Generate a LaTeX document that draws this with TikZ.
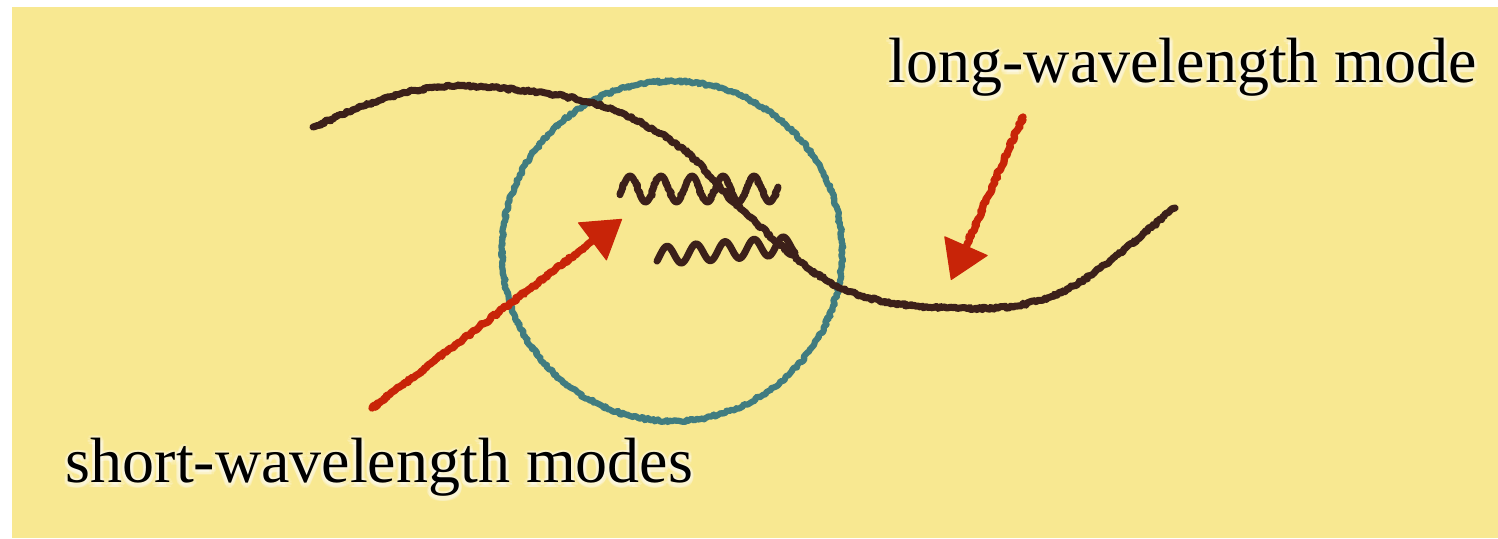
\documentclass[tikz,border=0pt]{standalone}
\usepackage{fontspec}
\setmainfont{Liberation Serif}
\usetikzlibrary{arrows.meta,calc,decorations.pathmorphing}
\definecolor{bg}{HTML}{F8E891}
\definecolor{chalkbrown}{HTML}{3C201A}
\definecolor{chalkteal}{HTML}{407C80}
\definecolor{chalkred}{HTML}{C82408}
\begin{document}
\begin{tikzpicture}[x=0.25pt,y=-0.25pt,
  chalk/.style={line width=1.75pt, line cap=round, line join=round, decorate,
    decoration={random steps, segment length=0.5pt, amplitude=0.33pt}},
  lbl/.style={inner sep=0pt, anchor=base west, font=\fontsize{16}{18}\selectfont},
  glow/.style={lbl, text=white, opacity=0.2},
  arrowhead/.style={chalkred, line width=0.25pt, -{Triangle[length=9.5pt,width=12pt,round]}},
]
\pgfmathsetseed{7}
\fill[white] (0,0) rectangle (1498,538);
\useasboundingbox (0,0) rectangle (1498,538);
\fill[bg] (12,7) rectangle (1498,538);

% circle (region)
\coordinate (cc) at (672,251);
\draw[chalk, chalkteal, line width=1.55pt] (cc) circle[radius=170];

% long-wavelength mode
\coordinate (L0) at (313,127);
\coordinate (L9) at (1175,208);
\draw[chalk, chalkbrown] (L0)
  .. controls (325.8,122) and (364.3,103.8) .. (390,97)
  .. controls (415.7,90.2) and (433.2,85) .. (467,86)
  .. controls (500.8,87) and (557.5,92.8) .. (593,103)
  .. controls (628.5,113.2) and (655.5,129.5) .. (680,147)
  .. controls (704.5,164.5) and (713.8,184.8) .. (740,208)
  .. controls (766.2,231.2) and (802.5,269.3) .. (837,286)
  .. controls (871.5,302.7) and (909.8,306.8) .. (947,308)
  .. controls (984.2,309.2) and (1022,309.7) .. (1060,293)
  .. controls (1098,276.3) and (1155.8,222.2) .. (L9);

% short-wavelength modes
\draw[chalk, chalkbrown] plot[domain=620:778, samples=120] (\x, {189 - 13*cos(11.6129*(\x-630))});
\draw[chalk, chalkbrown] plot[domain=657:795, samples=110] (\x, {256 - 0.08*(\x-657) - 9*cos(12.4138*(\x-667))});

% arrows
\coordinate (s1) at (372,408);
\coordinate (t1) at (622,219);
\coordinate (s2) at (1023,117);
\coordinate (t2) at (951,280);
\draw[chalk, chalkred, line width=1.85pt] (s1) -- ($(t1)!7.5pt!(s1)$);
\draw[arrowhead] ($(t1)!9.75pt!(s1)$) -- (t1);
\draw[chalk, chalkred, line width=1.85pt] (s2) -- ($(t2)!7.5pt!(s2)$);
\draw[arrowhead] ($(t2)!9.75pt!(s2)$) -- (t2);

% labels with glow
\foreach \a in {0,30,...,330} {
  \node[glow] at ($(888,84)+(\a:3.5)$) {long-wavelength mode};
  \node[glow] at ($(65,484)+(\a:3.5)$) {short-wavelength modes};
}
\node[lbl] (longlbl) at (888,82) {long-wavelength mode};
\node[lbl] (shortlbl) at (65,482) {short-wavelength modes};
\end{tikzpicture}
\end{document}
